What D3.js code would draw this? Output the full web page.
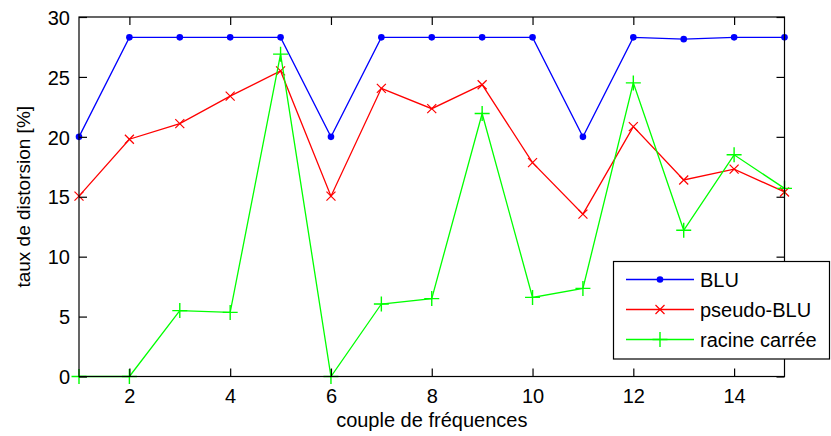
<!DOCTYPE html>
<html><head><meta charset="utf-8">
<script src="https://cdn.jsdelivr.net/npm/d3@7"></script>
<style>body{margin:0;background:#fff}svg{display:block}text{font-family:"Liberation Sans",Arial,sans-serif;fill:#000}</style>
</head><body><svg id="c" width="831" height="436"></svg>
<script>
const categories = [1,2,3,4,5,6,7,8,9,10,11,12,13,14,15];
const seriesNames = ["BLU","pseudo-BLU","racine carrée"];
const bluValues = [20,28.3,28.3,28.3,28.3,20,28.3,28.3,28.3,28.3,20,28.3,28.15,28.3,28.3];
const pseudoBluValues = [15.05,19.8,21.1,23.4,25.5,15.05,24.05,22.35,24.35,17.85,13.55,20.85,16.4,17.3,15.4];
const racineValues = [0,0,5.5,5.35,26.9,0,6.05,6.5,21.95,6.6,7.35,24.5,12.2,18.5,15.7];
const xTicks = [2,4,6,8,10,12,14];
const yTicks = [0,5,10,15,20,25,30];
const xLabel = "couple de fréquences";
const yLabel = "taux de distorsion [%]";

const colors = ["#0000ff","#ff0000","#00ff00"];
const markers = ["dot","x","plus"];
const series = [bluValues,pseudoBluValues,racineValues];

const svg = d3.select("#c");
const L=79, R=784.5, T=17, B=376.5;
const x = d3.scaleLinear().domain([1,15]).range([L,R]);
const y = d3.scaleLinear().domain([0,30]).range([B,T]);
const fs = 20;

svg.append("rect").attr("x",0).attr("y",0).attr("width",831).attr("height",436).attr("fill","#fff");

// data
const line = d3.line().x((d,i)=>x(categories[i])).y(d=>y(d));
function drawMarker(g, type, cx, cy, color, legend){
  if(type==="dot"){
    g.append("circle").attr("cx",cx).attr("cy",cy).attr("r",3.3).attr("fill",color);
  } else if(type==="x"){
    const s=4.5;
    g.append("path").attr("d",`M${cx-s},${cy-s}L${cx+s},${cy+s}M${cx-s},${cy+s}L${cx+s},${cy-s}`).attr("stroke",color).attr("stroke-width",1.2).attr("fill","none");
  } else {
    const s=7.5;
    g.append("path").attr("d",`M${cx-s},${cy}L${cx+s},${cy}M${cx},${cy-s}L${cx},${cy+s}`).attr("stroke",color).attr("stroke-width",1.4).attr("fill","none");
  }
}
series.forEach((vals,k)=>{
  const g = svg.append("g");
  g.append("path").datum(vals).attr("d",line).attr("fill","none").attr("stroke",colors[k]).attr("stroke-width",1.3);
  vals.forEach((v,i)=>drawMarker(g,markers[k],x(categories[i]),y(v),colors[k]));
});

// axes box
const ax = svg.append("g");
ax.append("rect").attr("x",L).attr("y",T).attr("width",R-L).attr("height",B-T).attr("fill","none").attr("stroke","#000").attr("stroke-width",1.2);
const tl = 8;
const gb = svg.append("g").attr("transform",`translate(0,${B})`).call(d3.axisBottom(x).tickValues(xTicks).tickSizeInner(-tl).tickSizeOuter(0).tickPadding(12));
const gt = svg.append("g").attr("transform",`translate(0,${T})`).call(d3.axisTop(x).tickValues(xTicks).tickSizeInner(-tl).tickSizeOuter(0).tickFormat(""));
const gl = svg.append("g").attr("transform",`translate(${L},0)`).call(d3.axisLeft(y).tickValues(yTicks).tickSizeInner(-tl).tickSizeOuter(0).tickPadding(9));
const gr = svg.append("g").attr("transform",`translate(${R},0)`).call(d3.axisRight(y).tickValues(yTicks).tickSizeInner(-tl).tickSizeOuter(0).tickFormat(""));
[gb,gt,gl,gr].forEach(g=>{
  g.select(".domain").remove();
  g.selectAll(".tick line").attr("stroke","#000").attr("stroke-width",1.2);
  g.selectAll(".tick text").attr("font-size",fs).attr("font-family","Liberation Sans, Arial, sans-serif").attr("fill","#000");
});
gb.selectAll(".tick text").attr("dy","0.71em");
gl.selectAll(".tick text").attr("dy","0.36em");

svg.append("text").attr("x",(L+R)/2).attr("y",427).attr("text-anchor","middle").attr("font-size",fs).text(xLabel);
svg.append("text").attr("transform",`translate(30,${(T+B)/2}) rotate(-90)`).attr("text-anchor","middle").attr("font-size",fs-1).text(yLabel);

// legend
const lg = svg.append("g");
lg.append("rect").attr("x",613.5).attr("y",261.5).attr("width",216).attr("height",97.5).attr("fill","#fff").attr("stroke","#000").attr("stroke-width",1.2);
const rowY = [279.5,309.5,339.5];
seriesNames.forEach((n,k)=>{
  lg.append("line").attr("x1",626).attr("x2",694).attr("y1",rowY[k]).attr("y2",rowY[k]).attr("stroke",colors[k]).attr("stroke-width",1.3);
  drawMarker(lg,markers[k],660,rowY[k],colors[k],true);
  lg.append("text").attr("x",700).attr("y",rowY[k]).attr("dy","0.36em").attr("font-size",fs).text(n);
});
</script></body></html>
